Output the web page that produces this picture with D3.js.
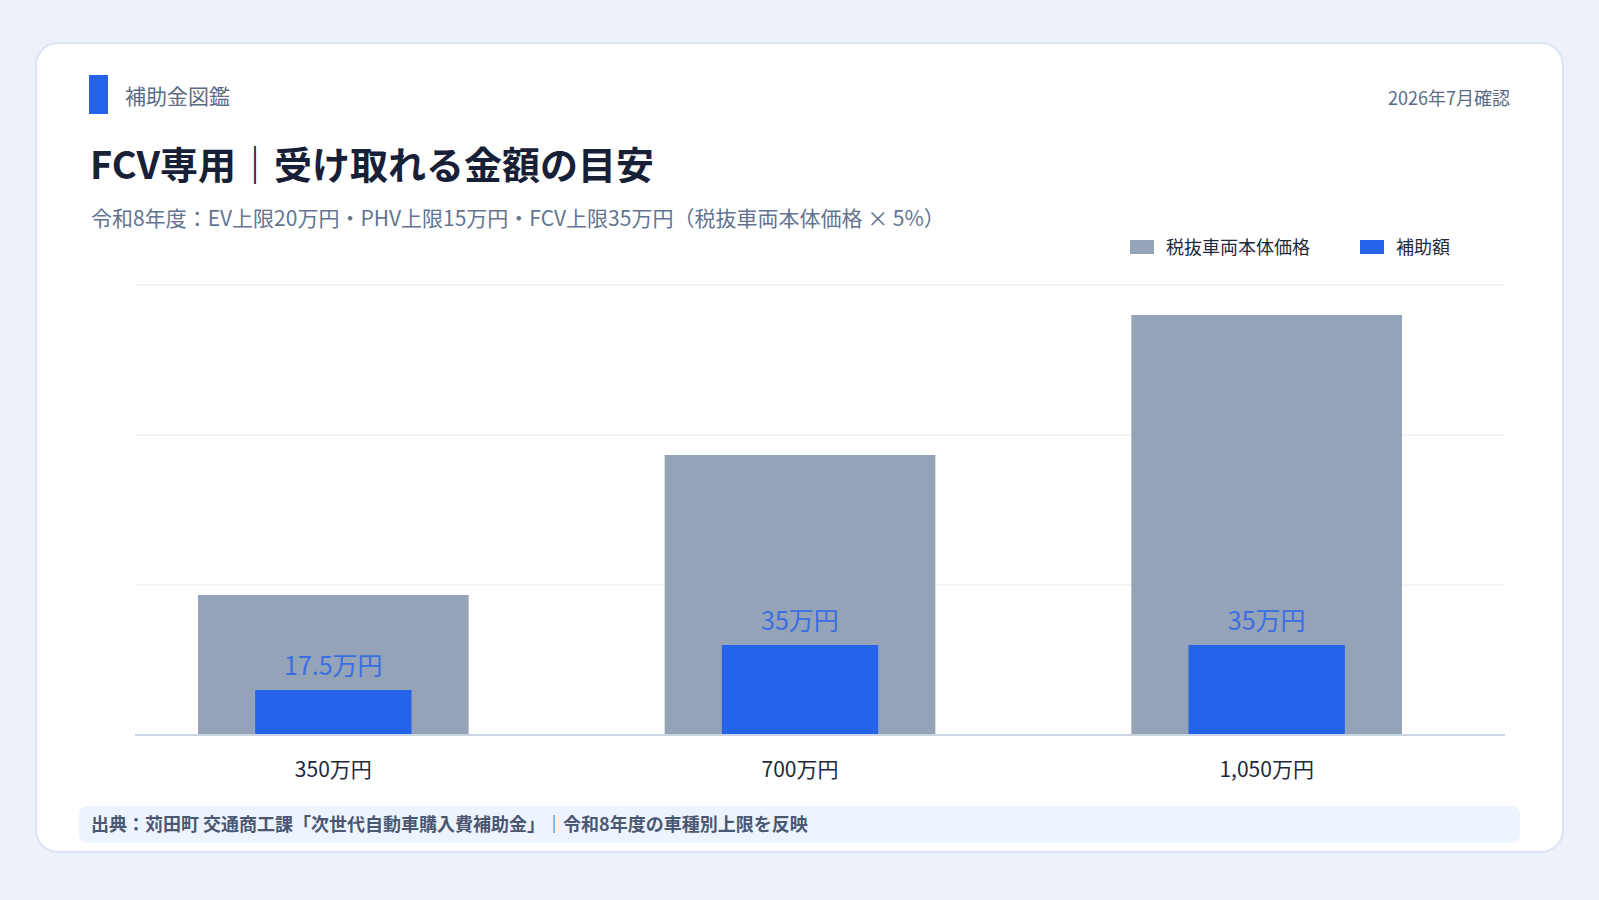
<!DOCTYPE html>
<html>
<head>
  <meta charset="utf-8">
  <style>
    html, body {
      margin: 0;
      padding: 0;
      background-color: #edf2fa;
    }
    svg {
      display: block;
      font-family: "Noto Sans CJK JP", "Noto Sans", sans-serif;
    }
  </style>
</head>
<body>
  <div id="chart"></div>

  <script src="https://d3js.org/d3.v7.min.js"></script>
  <script>

    // data
    var categories = ["350万円", "700万円", "1,050万円"];
    var priceValues = [350, 700, 1050];
    var subsidyValues = [17.5, 35, 35];
    var subsidyLabels = ["17.5万円", "35万円", "35万円"];
    var seriesNames = ["税抜車両本体価格", "補助額"];
    var gridTicks = [0, 375, 750, 1125];

    var W = 1599, H = 900;
    var plot = {left: 135, right: 1505, top: 285, bottom: 735};

    var svg = d3.select("#chart")
        .append("svg")
        .attr("width", W)
        .attr("height", H);

    // card
    svg.append("rect")
        .attr("x", 36).attr("y", 43)
        .attr("width", 1527).attr("height", 809)
        .attr("rx", 22)
        .attr("fill", "#ffffff")
        .attr("stroke", "#dbe4f0")
        .attr("stroke-width", 2);

    // header
    svg.append("rect")
        .attr("x", 89).attr("y", 75)
        .attr("width", 19).attr("height", 39)
        .attr("fill", "#2563eb");

    svg.append("text")
        .attr("x", 125).attr("y", 104)
        .attr("font-size", 21)
        .attr("fill", "#5b6b86")
        .text("補助金図鑑");

    svg.append("text")
        .attr("x", 1510).attr("y", 105)
        .attr("text-anchor", "end")
        .attr("font-size", 18)
        .attr("fill", "#5b6b86")
        .text("2026年7月確認");

    svg.append("text")
        .attr("x", 90).attr("y", 179)
        .attr("font-size", 38)
        .attr("font-weight", 700)
        .attr("fill", "#172036")
        .text("FCV専用｜受け取れる金額の目安");

    svg.append("text")
        .attr("x", 91).attr("y", 226)
        .attr("font-size", 21)
        .attr("fill", "#627490")
        .text("令和8年度：EV上限20万円・PHV上限15万円・FCV上限35万円（税抜車両本体価格 × 5%）");

    // legend
    var legendX = [1130, 1360];
    var legendColors = ["#94a3b8", "#2563eb"];
    var legend = svg.append("g")
        .selectAll("g")
        .data(seriesNames)
        .enter()
        .append("g")
        .attr("transform", function (d, i) {
          return "translate(" + legendX[i] + ",240)";
        });
    legend.append("rect")
        .attr("width", 24).attr("height", 14)
        .attr("fill", function (d, i) { return legendColors[i]; });
    legend.append("text")
        .attr("x", 36).attr("y", 14)
        .attr("font-size", 18)
        .attr("fill", "#1e293b")
        .text(function (d) { return d; });

    // scales
    var x = d3.scaleBand()
        .domain(categories)
        .range([100, 1500])
        .padding(0);

    var yPrice = d3.scaleLinear()
        .domain([0, 1125])
        .range([plot.bottom, plot.top]);

    var ySub = d3.scaleLinear()
        .domain([0, 175])
        .range([plot.bottom, plot.top]);

    // gridlines
    svg.append("g")
        .selectAll("line")
        .data(gridTicks.slice(1))
        .enter()
        .append("line")
        .attr("x1", plot.left).attr("x2", plot.right)
        .attr("y1", function (d) { return yPrice(d); })
        .attr("y2", function (d) { return yPrice(d); })
        .attr("stroke", "#eef1f6")
        .attr("stroke-width", 1.5);

    var priceW = x.bandwidth() * 0.58;
    var subW = x.bandwidth() * 0.335;

    // price bars
    svg.append("g")
        .selectAll("rect")
        .data(priceValues)
        .enter()
        .append("rect")
        .attr("x", function (d, i) { return x(categories[i]) + (x.bandwidth() - priceW) / 2; })
        .attr("y", function (d) { return yPrice(d); })
        .attr("width", priceW)
        .attr("height", function (d) { return yPrice(0) - yPrice(d); })
        .attr("fill", "#94a3b8");

    // subsidy bars
    svg.append("g")
        .selectAll("rect")
        .data(subsidyValues)
        .enter()
        .append("rect")
        .attr("x", function (d, i) { return x(categories[i]) + (x.bandwidth() - subW) / 2; })
        .attr("y", function (d) { return ySub(d); })
        .attr("width", subW)
        .attr("height", function (d) { return ySub(0) - ySub(d); })
        .attr("fill", "#2563eb");

    // subsidy labels
    svg.append("g")
        .selectAll("text")
        .data(subsidyValues)
        .enter()
        .append("text")
        .attr("x", function (d, i) { return x(categories[i]) + x.bandwidth() / 2; })
        .attr("y", function (d) { return ySub(d) - 15; })
        .attr("text-anchor", "middle")
        .attr("font-size", 25)
        .attr("fill", "#3a6ee3")
        .text(function (d, i) { return subsidyLabels[i]; });

    // baseline
    svg.append("line")
        .attr("x1", plot.left).attr("x2", plot.right)
        .attr("y1", plot.bottom).attr("y2", plot.bottom)
        .attr("stroke", "#cbd5e1")
        .attr("stroke-width", 2);

    // x axis
    var xAxis = d3.axisBottom(x).tickSize(0).tickPadding(0);
    var gx = svg.append("g")
        .attr("transform", "translate(0," + plot.bottom + ")")
        .call(xAxis);
    gx.select(".domain").remove();
    gx.selectAll("text")
        .attr("y", 42)
        .attr("dy", null)
        .attr("font-size", 21)
        .attr("font-family", "Noto Sans CJK JP")
        .attr("fill", "#1e293b");

    // footer
    svg.append("rect")
        .attr("x", 79).attr("y", 806)
        .attr("width", 1441).attr("height", 37)
        .attr("rx", 8)
        .attr("fill", "#eef4fe");

    svg.append("text")
        .attr("x", 91).attr("y", 831)
        .attr("font-size", 18)
        .attr("font-weight", 700)
        .attr("fill", "#4a5873")
        .text("出典：苅田町 交通商工課「次世代自動車購入費補助金」｜令和8年度の車種別上限を反映");

  </script>
</body>
</html>
